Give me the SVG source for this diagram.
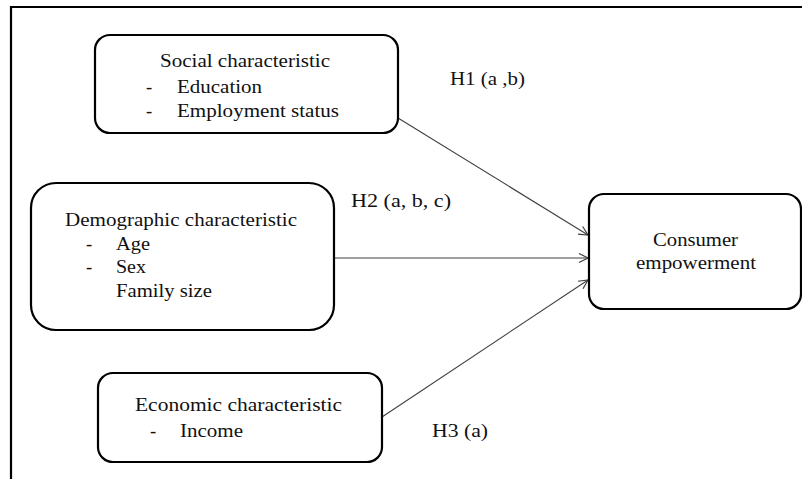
<svg xmlns="http://www.w3.org/2000/svg" width="802" height="479" viewBox="0 0 802 479">
<style>
.box{fill:#fff;stroke:#000;stroke-width:2.2}
.t{font-family:"Liberation Serif","Times New Roman",serif;font-size:18.5px;fill:#111}
.c{stroke:#404040;stroke-width:1.1;fill:none;marker-end:url(#ah)}
</style>
<defs>
<marker id="ah" markerWidth="12" markerHeight="12" refX="10" refY="5" orient="auto" markerUnits="userSpaceOnUse">
<path d="M1,0.5 L10,5 L1,9.5" fill="none" stroke="#404040" stroke-width="1.2"/>
</marker>
</defs>
<rect width="802" height="479" fill="#fff"/>
<path d="M11,479 V7 H802" fill="none" stroke="#000" stroke-width="2.2"/>
<g id="connectors">
<line class="c" x1="398" y1="118" x2="588" y2="235"/>
<line class="c" x1="335" y1="258" x2="588" y2="258"/>
<line class="c" x1="382" y1="417" x2="588" y2="280"/>
</g>
<g id="social">
<rect class="box" x="95" y="35" width="303" height="98" rx="15"/>
<text class="t" x="160" y="67" textLength="170" lengthAdjust="spacingAndGlyphs">Social characteristic</text>
<text class="t" x="146" y="93">-</text>
<text class="t" x="177" y="93" textLength="85" lengthAdjust="spacingAndGlyphs">Education</text>
<text class="t" x="146" y="117">-</text>
<text class="t" x="177" y="117" textLength="162" lengthAdjust="spacingAndGlyphs">Employment status</text>
</g>
<g id="demographic">
<rect class="box" x="31" y="183" width="303" height="147" rx="25"/>
<text class="t" x="65" y="226" textLength="232" lengthAdjust="spacingAndGlyphs">Demographic characteristic</text>
<text class="t" x="86" y="250">-</text>
<text class="t" x="116" y="250" textLength="34" lengthAdjust="spacingAndGlyphs">Age</text>
<text class="t" x="86" y="273">-</text>
<text class="t" x="116" y="273" textLength="30" lengthAdjust="spacingAndGlyphs">Sex</text>
<text class="t" x="116" y="297" textLength="96" lengthAdjust="spacingAndGlyphs">Family size</text>
</g>
<g id="economic">
<rect class="box" x="98" y="373" width="284" height="89" rx="15"/>
<text class="t" x="135" y="411" textLength="207" lengthAdjust="spacingAndGlyphs">Economic characteristic</text>
<text class="t" x="150" y="437">-</text>
<text class="t" x="180" y="437" textLength="63" lengthAdjust="spacingAndGlyphs">Income</text>
</g>
<g id="consumer">
<rect class="box" x="589" y="194" width="212" height="115" rx="15"/>
<text class="t" x="653" y="246" textLength="85" lengthAdjust="spacingAndGlyphs">Consumer</text>
<text class="t" x="636" y="269" textLength="120" lengthAdjust="spacingAndGlyphs">empowerment</text>
</g>
<g id="labels">
<text class="t" x="450" y="85" textLength="75" lengthAdjust="spacingAndGlyphs">H1 (a ,b)</text>
<text class="t" x="351" y="207" textLength="100" lengthAdjust="spacingAndGlyphs">H2 (a,  b, c)</text>
<text class="t" x="432" y="437" textLength="56" lengthAdjust="spacingAndGlyphs">H3 (a)</text>
</g>
</svg>
